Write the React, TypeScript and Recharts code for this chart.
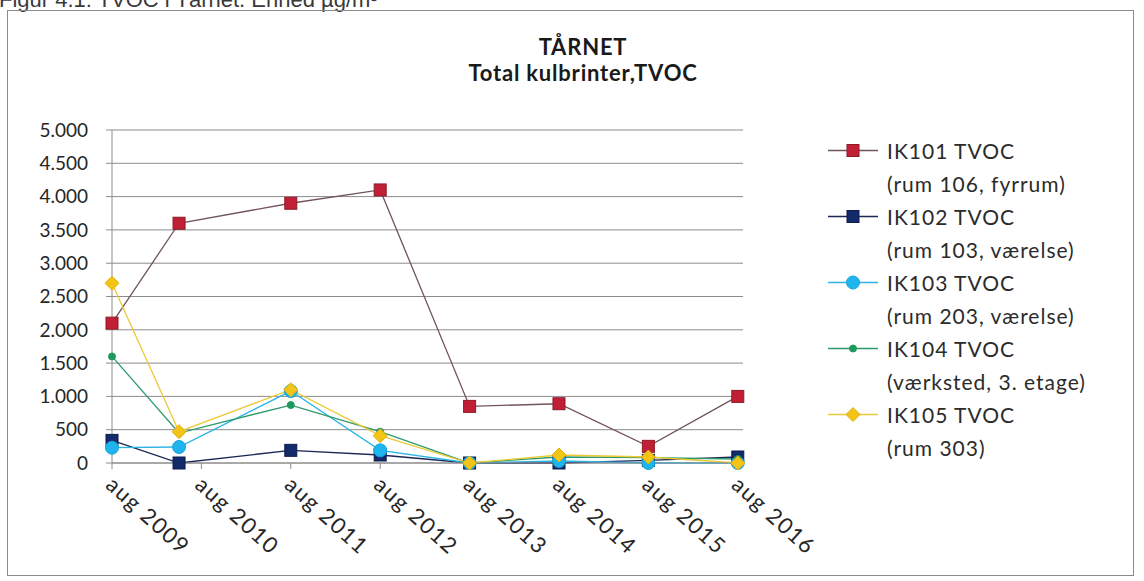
import React from 'react';
import { LineChart, Line, XAxis, YAxis, CartesianGrid, Legend } from 'recharts';

// Months counted from aug 2009 for each measurement round
const months = [0, 9, 24, 36, 48, 60, 72, 84];
const tickMonths = [0, 12, 24, 36, 48, 60, 72, 84];
const tickLabels = ['aug 2009', 'aug 2010', 'aug 2011', 'aug 2012', 'aug 2013', 'aug 2014', 'aug 2015', 'aug 2016'];
const yTicks = [0, 500, 1000, 1500, 2000, 2500, 3000, 3500, 4000, 4500, 5000];

// TVOC, µg/m³
const ik101 = [2100, 3600, 3900, 4100, 850, 890, 250, 1000];
const ik102 = [340, 0, 190, 120, 0, 0, 40, 90];
const ik103 = [230, 240, 1080, 190, 0, 30, 0, 0];
const ik104 = [1600, 450, 870, 470, 0, 90, 80, 60];
const ik105 = [2700, 470, 1100, 410, 0, 120, 90, 0];

const data = months.map((m, i) => ({
  m,
  ik101: ik101[i],
  ik102: ik102[i],
  ik103: ik103[i],
  ik104: ik104[i],
  ik105: ik105[i],
}));

type Shape = 'square' | 'circle' | 'dot' | 'diamond';

const series: { key: string; name: string; sub: string; line: string; fill: string; edge: string; shape: Shape }[] = [
  { key: 'ik101', name: 'IK101 TVOC', sub: '(rum 106, fyrrum)', line: '#705458', fill: '#c01f35', edge: '#8e1a28', shape: 'square' },
  { key: 'ik102', name: 'IK102 TVOC', sub: '(rum 103, værelse)', line: '#1c2754', fill: '#132a6b', edge: '#0d1c4a', shape: 'square' },
  { key: 'ik103', name: 'IK103 TVOC', sub: '(rum 203, værelse)', line: '#2bb3e6', fill: '#1eb5ee', edge: '#19a3d8', shape: 'circle' },
  { key: 'ik104', name: 'IK104 TVOC', sub: '(værksted, 3. etage)', line: '#2e9a6b', fill: '#1f9a5f', edge: '#1f9a5f', shape: 'dot' },
  { key: 'ik105', name: 'IK105 TVOC', sub: '(rum 303)', line: '#ecc936', fill: '#f3c316', edge: '#e2b30e', shape: 'diamond' },
];

const FONT = 'Lato, "Noto Sans", sans-serif';

const formatThousands = (v: number) =>
  v >= 1000 ? `${Math.floor(v / 1000)}.${String(v % 1000).padStart(3, '0')}` : String(v);

const Marker = ({ cx, cy, shape, fill, edge }: { cx: number; cy: number; shape: Shape; fill: string; edge: string }) => {
  if (cx == null || cy == null) return null;
  switch (shape) {
    case 'square':
      return <rect x={cx - 6} y={cy - 6} width={12} height={12} fill={fill} stroke={edge} strokeWidth={1} />;
    case 'circle':
      return <circle cx={cx} cy={cy} r={6.5} fill={fill} stroke={edge} strokeWidth={1} />;
    case 'dot':
      return <circle cx={cx} cy={cy} r={3.5} fill={fill} stroke={edge} strokeWidth={1} />;
    default:
      return <polygon points={`${cx},${cy - 7} ${cx + 7},${cy} ${cx},${cy + 7} ${cx - 7},${cy}`} fill={fill} stroke={edge} strokeWidth={1} />;
  }
};

const XTick = (props: any) => {
  const { x, y, payload } = props;
  const idx = tickMonths.indexOf(payload.value);
  const tx = x + 3;
  return (
    <text
      x={tx}
      y={y}
      dy="0.72em"
      transform={`rotate(42, ${tx}, ${y})`}
      textAnchor="start"
      fill="#262626"
      fontSize={22}
      letterSpacing={1.5}
      fontFamily={FONT}
    >
      {tickLabels[idx]}
    </text>
  );
};

const LegendBox = () => (
  <div style={{ fontFamily: FONT, fontSize: 21, letterSpacing: 1, color: '#2b2b2b' }}>
    {series.map((s) => (
      <div key={s.key}>
        <div style={{ display: 'flex', alignItems: 'center', height: 33 }}>
          <svg width={59} height={33} style={{ flex: 'none' }}>
            <line x1={0} y1={16.5} x2={50} y2={16.5} stroke={s.line} strokeWidth={1.5} />
            <Marker cx={25} cy={16.5} shape={s.shape} fill={s.fill} edge={s.edge} />
          </svg>
          <span>{s.name}</span>
        </div>
        <div style={{ height: 33, lineHeight: '33px', paddingLeft: 59 }}>{s.sub}</div>
      </div>
    ))}
  </div>
);

export default function App() {
  return (
    <div style={{ position: 'relative', width: 1144, height: 581, background: '#fff', overflow: 'hidden' }}>
      <style>{'body{margin:0}'}</style>
      <svg width={1144} height={14} style={{ position: 'absolute', left: 0, top: 0 }}>
        <text x={-1} y={7} fontFamily='"Liberation Sans", Arial, sans-serif' fontSize={22} fill="#3a3a3a">
          Figur 4.1: TVOC i Tårnet. Enhed µg/m³
        </text>
      </svg>
      <div
        style={{
          position: 'absolute',
          left: 7,
          top: 10,
          width: 1127,
          height: 566,
          border: '1px solid #8a8a8a',
          boxSizing: 'border-box',
        }}
      />
      <div
        style={{
          position: 'absolute',
          left: 383,
          top: 34,
          width: 400,
          textAlign: 'center',
          fontFamily: FONT,
          fontWeight: 700,
          fontSize: 22,
          letterSpacing: 0.8,
          lineHeight: '26px',
          color: '#1a1a1a',
        }}
      >
        <div>TÅRNET</div>
        <div>Total kulbrinter,TVOC</div>
      </div>
      <div style={{ position: 'absolute', left: 0, top: 0 }}>
        <LineChart width={1144} height={581} data={data} margin={{ top: 130, right: 401, bottom: 38, left: 60 }}>
          <CartesianGrid horizontal vertical={false} stroke="#8c8c8c" strokeWidth={1} />
          <XAxis
            dataKey="m"
            type="number"
            domain={[0, 84.7]}
            ticks={tickMonths}
            interval={0}
            height={80}
            tick={<XTick />}
            tickSize={6}
            tickMargin={6}
            axisLine={{ stroke: '#8c8c8c' }}
            tickLine={{ stroke: '#8c8c8c' }}
          />
          <YAxis
            width={52}
            domain={[0, 5000]}
            ticks={yTicks}
            interval={0}
            tickFormatter={formatThousands}
            tickSize={6}
            tickMargin={18}
            axisLine={{ stroke: '#8c8c8c' }}
            tickLine={{ stroke: '#8c8c8c' }}
            tick={{ fill: '#262626', fontSize: 19, fontFamily: FONT }}
          />
          <Legend
            layout="vertical"
            align="center"
            verticalAlign="middle"
            content={<LegendBox />}
            wrapperStyle={{ position: 'absolute', left: 828, top: 134, width: 310 }}
          />
          {series.map((s) => (
            <Line
              key={s.key}
              dataKey={s.key}
              name={s.name}
              type="linear"
              stroke={s.line}
              strokeWidth={1.3}
              isAnimationActive={false}
              dot={(p: any) => <Marker key={`${s.key}-${p.index}`} cx={p.cx} cy={p.cy} shape={s.shape} fill={s.fill} edge={s.edge} />}
              activeDot={false}
            />
          ))}
        </LineChart>
      </div>
    </div>
  );
}
